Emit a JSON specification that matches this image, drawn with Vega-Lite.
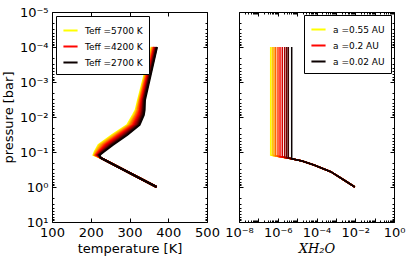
{
  "$schema": "https://vega.github.io/schema/vega-lite/v6.json",
  "padding": {"left": 1, "top": 5, "right": 5, "bottom": 5},
  "background": "white",
  "config": {
    "font": "DejaVu Sans",
    "view": {"stroke": "#000", "strokeWidth": 1},
    "axis": {"domain": false, "grid": false, "tickColor": "#000", "labelColor": "#000", "titleColor": "#000", "labelFont": "DejaVu Sans", "titleFont": "DejaVu Sans", "labelFontSize": 13, "titleFontSize": 13, "titleFontWeight": "normal", "labelFlush": false, "labelOverlap": false, "tickWidth": 1},
    "legend": {"strokeColor": "#000", "fillColor": "#fff", "padding": 6, "cornerRadius": 0, "symbolType": "stroke", "symbolStrokeWidth": 2, "symbolSize": 200, "labelFontSize": 9, "labelFont": "DejaVu Sans", "labelColor": "#000", "rowPadding": 2, "labelOffset": 6}
  },
  "datasets": {
    "tp": [
      {"teff":5700,"p":0.0001,"T":357},{"teff":5700,"p":0.00327,"T":322},{"teff":5700,"p":0.00631,"T":316},{"teff":5700,"p":0.00877,"T":309},{"teff":5700,"p":0.0169,"T":294},{"teff":5700,"p":0.0327,"T":255},{"teff":5700,"p":0.0631,"T":220},{"teff":5700,"p":0.1,"T":210},{"teff":5700,"p":0.122,"T":207},{"teff":5700,"p":0.148,"T":226},{"teff":5700,"p":1,"T":370},
      {"teff":5400,"p":0.0001,"T":358},{"teff":5400,"p":0.00327,"T":324},{"teff":5400,"p":0.00631,"T":318},{"teff":5400,"p":0.00877,"T":312},{"teff":5400,"p":0.0169,"T":297},{"teff":5400,"p":0.0327,"T":259},{"teff":5400,"p":0.0631,"T":223},{"teff":5400,"p":0.1,"T":212},{"teff":5400,"p":0.122,"T":209},{"teff":5400,"p":0.148,"T":226},{"teff":5400,"p":1,"T":370},
      {"teff":5100,"p":0.0001,"T":360},{"teff":5100,"p":0.00327,"T":326},{"teff":5100,"p":0.00631,"T":320},{"teff":5100,"p":0.00877,"T":315},{"teff":5100,"p":0.0169,"T":300},{"teff":5100,"p":0.0327,"T":263},{"teff":5100,"p":0.0631,"T":227},{"teff":5100,"p":0.1,"T":214},{"teff":5100,"p":0.122,"T":210},{"teff":5100,"p":0.148,"T":226},{"teff":5100,"p":1,"T":370},
      {"teff":4800,"p":0.0001,"T":361},{"teff":4800,"p":0.00327,"T":327},{"teff":4800,"p":0.00631,"T":322},{"teff":4800,"p":0.00877,"T":317},{"teff":4800,"p":0.0169,"T":303},{"teff":4800,"p":0.0327,"T":267},{"teff":4800,"p":0.0631,"T":231},{"teff":4800,"p":0.1,"T":217},{"teff":4800,"p":0.122,"T":212},{"teff":4800,"p":0.148,"T":226},{"teff":4800,"p":1,"T":370},
      {"teff":4500,"p":0.0001,"T":363},{"teff":4500,"p":0.00327,"T":329},{"teff":4500,"p":0.00631,"T":325},{"teff":4500,"p":0.00877,"T":320},{"teff":4500,"p":0.0169,"T":307},{"teff":4500,"p":0.0327,"T":270},{"teff":4500,"p":0.0631,"T":235},{"teff":4500,"p":0.1,"T":219},{"teff":4500,"p":0.122,"T":213},{"teff":4500,"p":0.148,"T":226},{"teff":4500,"p":1,"T":370},
      {"teff":4200,"p":0.0001,"T":364},{"teff":4200,"p":0.00327,"T":331},{"teff":4200,"p":0.00631,"T":327},{"teff":4200,"p":0.00877,"T":323},{"teff":4200,"p":0.0169,"T":310},{"teff":4200,"p":0.0327,"T":274},{"teff":4200,"p":0.0631,"T":238},{"teff":4200,"p":0.1,"T":221},{"teff":4200,"p":0.122,"T":215},{"teff":4200,"p":0.148,"T":226},{"teff":4200,"p":1,"T":370},
      {"teff":3900,"p":0.0001,"T":365},{"teff":3900,"p":0.00327,"T":333},{"teff":3900,"p":0.00631,"T":329},{"teff":3900,"p":0.00877,"T":326},{"teff":3900,"p":0.0169,"T":313},{"teff":3900,"p":0.0327,"T":278},{"teff":3900,"p":0.0631,"T":242},{"teff":3900,"p":0.1,"T":224},{"teff":3900,"p":0.122,"T":217},{"teff":3900,"p":0.148,"T":226},{"teff":3900,"p":1,"T":370},
      {"teff":3600,"p":0.0001,"T":367},{"teff":3600,"p":0.00327,"T":335},{"teff":3600,"p":0.00631,"T":332},{"teff":3600,"p":0.00877,"T":329},{"teff":3600,"p":0.0169,"T":316},{"teff":3600,"p":0.0327,"T":282},{"teff":3600,"p":0.0631,"T":246},{"teff":3600,"p":0.1,"T":226},{"teff":3600,"p":0.122,"T":218},{"teff":3600,"p":0.148,"T":226},{"teff":3600,"p":1,"T":370},
      {"teff":3300,"p":0.0001,"T":368},{"teff":3300,"p":0.00327,"T":336},{"teff":3300,"p":0.00631,"T":334},{"teff":3300,"p":0.00877,"T":331},{"teff":3300,"p":0.0169,"T":320},{"teff":3300,"p":0.0327,"T":286},{"teff":3300,"p":0.0631,"T":250},{"teff":3300,"p":0.1,"T":228},{"teff":3300,"p":0.122,"T":220},{"teff":3300,"p":0.148,"T":226},{"teff":3300,"p":1,"T":370},
      {"teff":3000,"p":0.0001,"T":370},{"teff":3000,"p":0.00327,"T":338},{"teff":3000,"p":0.00631,"T":336},{"teff":3000,"p":0.00877,"T":334},{"teff":3000,"p":0.0169,"T":323},{"teff":3000,"p":0.0327,"T":290},{"teff":3000,"p":0.0631,"T":253},{"teff":3000,"p":0.1,"T":231},{"teff":3000,"p":0.122,"T":221},{"teff":3000,"p":0.148,"T":226},{"teff":3000,"p":1,"T":370},
      {"teff":2700,"p":0.0001,"T":371},{"teff":2700,"p":0.00327,"T":340},{"teff":2700,"p":0.00631,"T":339},{"teff":2700,"p":0.00877,"T":337},{"teff":2700,"p":0.0169,"T":326},{"teff":2700,"p":0.0327,"T":294},{"teff":2700,"p":0.0631,"T":257},{"teff":2700,"p":0.1,"T":233},{"teff":2700,"p":0.122,"T":223},{"teff":2700,"p":0.148,"T":226},{"teff":2700,"p":1,"T":370}
    ],
    "xw": [
      {"teff":5700,"p":0.0001,"X":4.33e-7},{"teff":5700,"p":0.1219,"X":4.33e-7},{"teff":5700,"p":0.156,"X":5.3e-6},{"teff":5700,"p":0.18,"X":1.8e-5},{"teff":5700,"p":0.235,"X":7.4e-5},{"teff":5700,"p":0.366,"X":5.4e-4},{"teff":5700,"p":0.631,"X":2.6e-3},{"teff":5700,"p":1,"X":9.5e-3},
      {"teff":5400,"p":0.0001,"X":5.24e-7},{"teff":5400,"p":0.1245,"X":5.24e-7},{"teff":5400,"p":0.156,"X":5.3e-6},{"teff":5400,"p":0.18,"X":1.8e-5},{"teff":5400,"p":0.235,"X":7.4e-5},{"teff":5400,"p":0.366,"X":5.4e-4},{"teff":5400,"p":0.631,"X":2.6e-3},{"teff":5400,"p":1,"X":9.5e-3},
      {"teff":5100,"p":0.0001,"X":6.4e-7},{"teff":5100,"p":0.1273,"X":6.4e-7},{"teff":5100,"p":0.156,"X":5.3e-6},{"teff":5100,"p":0.18,"X":1.8e-5},{"teff":5100,"p":0.235,"X":7.4e-5},{"teff":5100,"p":0.366,"X":5.4e-4},{"teff":5100,"p":0.631,"X":2.6e-3},{"teff":5100,"p":1,"X":9.5e-3},
      {"teff":4800,"p":0.0001,"X":7.83e-7},{"teff":4800,"p":0.13,"X":7.83e-7},{"teff":4800,"p":0.156,"X":5.3e-6},{"teff":4800,"p":0.18,"X":1.8e-5},{"teff":4800,"p":0.235,"X":7.4e-5},{"teff":4800,"p":0.366,"X":5.4e-4},{"teff":4800,"p":0.631,"X":2.6e-3},{"teff":4800,"p":1,"X":9.5e-3},
      {"teff":4500,"p":0.0001,"X":1.03e-6},{"teff":4500,"p":0.133,"X":1.03e-6},{"teff":4500,"p":0.156,"X":5.3e-6},{"teff":4500,"p":0.18,"X":1.8e-5},{"teff":4500,"p":0.235,"X":7.4e-5},{"teff":4500,"p":0.366,"X":5.4e-4},{"teff":4500,"p":0.631,"X":2.6e-3},{"teff":4500,"p":1,"X":9.5e-3},
      {"teff":4200,"p":0.0001,"X":1.31e-6},{"teff":4200,"p":0.1358,"X":1.31e-6},{"teff":4200,"p":0.156,"X":5.3e-6},{"teff":4200,"p":0.18,"X":1.8e-5},{"teff":4200,"p":0.235,"X":7.4e-5},{"teff":4200,"p":0.366,"X":5.4e-4},{"teff":4200,"p":0.631,"X":2.6e-3},{"teff":4200,"p":1,"X":9.5e-3},
      {"teff":3900,"p":0.0001,"X":1.72e-6},{"teff":3900,"p":0.1387,"X":1.72e-6},{"teff":3900,"p":0.156,"X":5.3e-6},{"teff":3900,"p":0.18,"X":1.8e-5},{"teff":3900,"p":0.235,"X":7.4e-5},{"teff":3900,"p":0.366,"X":5.4e-4},{"teff":3900,"p":0.631,"X":2.6e-3},{"teff":3900,"p":1,"X":9.5e-3},
      {"teff":3600,"p":0.0001,"X":2.29e-6},{"teff":3600,"p":0.1419,"X":2.29e-6},{"teff":3600,"p":0.156,"X":5.3e-6},{"teff":3600,"p":0.18,"X":1.8e-5},{"teff":3600,"p":0.235,"X":7.4e-5},{"teff":3600,"p":0.366,"X":5.4e-4},{"teff":3600,"p":0.631,"X":2.6e-3},{"teff":3600,"p":1,"X":9.5e-3},
      {"teff":3300,"p":0.0001,"X":2.9e-6},{"teff":3300,"p":0.1449,"X":2.9e-6},{"teff":3300,"p":0.156,"X":5.3e-6},{"teff":3300,"p":0.18,"X":1.8e-5},{"teff":3300,"p":0.235,"X":7.4e-5},{"teff":3300,"p":0.366,"X":5.4e-4},{"teff":3300,"p":0.631,"X":2.6e-3},{"teff":3300,"p":1,"X":9.5e-3},
      {"teff":3000,"p":0.0001,"X":3.51e-6},{"teff":3000,"p":0.1483,"X":3.51e-6},{"teff":3000,"p":0.156,"X":5.3e-6},{"teff":3000,"p":0.18,"X":1.8e-5},{"teff":3000,"p":0.235,"X":7.4e-5},{"teff":3000,"p":0.366,"X":5.4e-4},{"teff":3000,"p":0.631,"X":2.6e-3},{"teff":3000,"p":1,"X":9.5e-3},
      {"teff":2700,"p":0.0001,"X":5.25e-6},{"teff":2700,"p":0.1514,"X":5.25e-6},{"teff":2700,"p":0.156,"X":5.3e-6},{"teff":2700,"p":0.18,"X":1.8e-5},{"teff":2700,"p":0.235,"X":7.4e-5},{"teff":2700,"p":0.366,"X":5.4e-4},{"teff":2700,"p":0.631,"X":2.6e-3},{"teff":2700,"p":1,"X":9.5e-3}
    ]
  },
  "spacing": 32,
  "bounds": "flush",
  "resolve": {"scale": {"color": "independent", "x": "independent", "y": "independent"}},
  "hconcat": [
    {
      "width": 155,
      "height": 210,
      "data": {"name": "tp"},
      "resolve": {"axis": {"x": "independent", "y": "independent"}},
      "layer": [
        {
          "mark": {"type": "line", "strokeWidth": 2},
          "encoding": {
            "x": {"field": "T", "type": "quantitative", "scale": {"domain": [100, 500], "nice": false, "zero": false},
                  "axis": {"orient": "bottom", "values": [100, 200, 300, 400, 500], "tickSize": -4, "labelPadding": 8, "title": "temperature [K]", "titlePadding": 3}},
            "y": {"field": "p", "type": "quantitative", "scale": {"type": "log", "domain": [0.00001, 10], "reverse": true, "nice": false},
                  "axis": {"orient": "left", "values": [0.00001, 0.0001, 0.001, 0.01, 0.1, 1, 10], "tickSize": -4, "labelPadding": 8, "title": "pressure [bar]", "titlePadding": 4,
                           "labelExpr": "'10' + replace(replace(replace(replace(replace(replace(replace(replace(replace(replace(replace(toString(round(log(datum.value)/LN10)),'-','⁻'),'0','⁰'),'1','¹'),'2','²'),'3','³'),'4','⁴'),'5','⁵'),'6','⁶'),'7','⁷'),'8','⁸'),'9','⁹')"}},
            "color": {"field": "teff", "type": "nominal",
                      "scale": {"domain": [5700, 5400, 5100, 4800, 4500, 4200, 3900, 3600, 3300, 3000, 2700],
                                "range": ["#ffff00", "#ffcd00", "#ff9b00", "#ff6900", "#ff3700", "#ff0500", "#d20000", "#a00000", "#6e0000", "#3c0000", "#0b0000"]},
                      "legend": {"values": [5700, 4200, 2700], "orient": "top-left", "offset": 4, "title": null, "labelExpr": "'Teff =' + datum.label + ' K'"}},
            "order": {"field": "p", "type": "quantitative"}
          }
        },
        {
          "mark": {"type": "line", "opacity": 0},
          "encoding": {
            "x": {"field": "T", "type": "quantitative", "axis": {"orient": "top", "values": [100, 200, 300, 400, 500], "tickSize": -4, "labels": false, "title": null}},
            "y": {"field": "p", "type": "quantitative", "axis": {"orient": "right", "values": [0.00001, 0.0001, 0.001, 0.01, 0.1, 1, 10], "tickSize": -4, "labels": false, "title": null}},
            "order": {"field": "p", "type": "quantitative"}
          }
        },
        {
          "mark": {"type": "line", "opacity": 0},
          "encoding": {
            "x": {"field": "T", "type": "quantitative", "axis": null},
            "y": {"field": "p", "type": "quantitative", "axis": {"orient": "left", "values": [2e-5,3e-5,4e-5,5e-5,6e-5,7e-5,8e-5,9e-5,2e-4,3e-4,4e-4,5e-4,6e-4,7e-4,8e-4,9e-4,2e-3,3e-3,4e-3,5e-3,6e-3,7e-3,8e-3,9e-3,2e-2,3e-2,4e-2,5e-2,6e-2,7e-2,8e-2,9e-2,0.2,0.3,0.4,0.5,0.6,0.7,0.8,0.9,2,3,4,5,6,7,8,9], "tickSize": -2, "labels": false, "title": null}},
            "order": {"field": "p", "type": "quantitative"}
          }
        },
        {
          "mark": {"type": "line", "opacity": 0},
          "encoding": {
            "x": {"field": "T", "type": "quantitative", "axis": null},
            "y": {"field": "p", "type": "quantitative", "axis": {"orient": "right", "values": [2e-5,3e-5,4e-5,5e-5,6e-5,7e-5,8e-5,9e-5,2e-4,3e-4,4e-4,5e-4,6e-4,7e-4,8e-4,9e-4,2e-3,3e-3,4e-3,5e-3,6e-3,7e-3,8e-3,9e-3,2e-2,3e-2,4e-2,5e-2,6e-2,7e-2,8e-2,9e-2,0.2,0.3,0.4,0.5,0.6,0.7,0.8,0.9,2,3,4,5,6,7,8,9], "tickSize": -2, "labels": false, "title": null}},
            "order": {"field": "p", "type": "quantitative"}
          }
        }
      ]
    },
    {
      "width": 155,
      "height": 210,
      "data": {"name": "xw"},
      "resolve": {"axis": {"x": "independent", "y": "independent"}},
      "layer": [
        {
          "mark": {"type": "line", "strokeWidth": 1.5},
          "encoding": {
            "x": {"field": "X", "type": "quantitative", "scale": {"type": "log", "domain": [1e-8, 1], "nice": false},
                  "axis": {"orient": "bottom", "values": [1e-8, 1e-7, 1e-6, 1e-5, 1e-4, 1e-3, 1e-2, 1e-1, 1], "tickSize": -4, "labelPadding": 8, "title": "XH₂O", "titleFont": "DejaVu Serif", "titleFontStyle": "italic", "titlePadding": 3,
                           "labelExpr": "round(log(datum.value)/LN10) % 2 == 0 ? '10' + replace(replace(replace(replace(replace(replace(replace(replace(replace(replace(replace(toString(round(log(datum.value)/LN10)),'-','⁻'),'0','⁰'),'1','¹'),'2','²'),'3','³'),'4','⁴'),'5','⁵'),'6','⁶'),'7','⁷'),'8','⁸'),'9','⁹') : ''"}},
            "y": {"field": "p", "type": "quantitative", "scale": {"type": "log", "domain": [0.00001, 10], "reverse": true, "nice": false},
                  "axis": {"orient": "left", "values": [0.00001, 0.0001, 0.001, 0.01, 0.1, 1, 10], "tickSize": -4, "labels": false, "title": null}},
            "color": {"field": "teff", "type": "nominal",
                      "scale": {"domain": [5700, 5400, 5100, 4800, 4500, 4200, 3900, 3600, 3300, 3000, 2700],
                                "range": ["#ffff00", "#ffcd00", "#ff9b00", "#ff6900", "#ff3700", "#ff0500", "#d20000", "#a00000", "#6e0000", "#3c0000", "#0b0000"]},
                      "legend": {"values": [5700, 4200, 2700], "orient": "top-right", "offset": 3, "title": null, "labelExpr": "datum.value == 5700 ? 'a =0.55 AU' : datum.value == 4200 ? 'a =0.2 AU' : 'a =0.02 AU'"}},
            "order": {"field": "p", "type": "quantitative"}
          }
        },
        {
          "mark": {"type": "line", "opacity": 0},
          "encoding": {
            "x": {"field": "X", "type": "quantitative", "axis": {"orient": "top", "values": [1e-8, 1e-7, 1e-6, 1e-5, 1e-4, 1e-3, 1e-2, 1e-1, 1], "tickSize": -4, "labels": false, "title": null}},
            "y": {"field": "p", "type": "quantitative", "axis": {"orient": "right", "values": [0.00001, 0.0001, 0.001, 0.01, 0.1, 1, 10], "tickSize": -4, "labels": false, "title": null}},
            "order": {"field": "p", "type": "quantitative"}
          }
        },
        {
          "mark": {"type": "line", "opacity": 0},
          "encoding": {
            "x": {"field": "X", "type": "quantitative", "axis": {"orient": "bottom", "values": [2e-8,3e-8,4e-8,5e-8,6e-8,7e-8,8e-8,9e-8,2e-7,3e-7,4e-7,5e-7,6e-7,7e-7,8e-7,9e-7,2e-6,3e-6,4e-6,5e-6,6e-6,7e-6,8e-6,9e-6,2e-5,3e-5,4e-5,5e-5,6e-5,7e-5,8e-5,9e-5,2e-4,3e-4,4e-4,5e-4,6e-4,7e-4,8e-4,9e-4,2e-3,3e-3,4e-3,5e-3,6e-3,7e-3,8e-3,9e-3,2e-2,3e-2,4e-2,5e-2,6e-2,7e-2,8e-2,9e-2,0.2,0.3,0.4,0.5,0.6,0.7,0.8,0.9], "tickSize": -2, "labels": false, "title": null}},
            "y": {"field": "p", "type": "quantitative", "axis": {"orient": "left", "values": [2e-5,3e-5,4e-5,5e-5,6e-5,7e-5,8e-5,9e-5,2e-4,3e-4,4e-4,5e-4,6e-4,7e-4,8e-4,9e-4,2e-3,3e-3,4e-3,5e-3,6e-3,7e-3,8e-3,9e-3,2e-2,3e-2,4e-2,5e-2,6e-2,7e-2,8e-2,9e-2,0.2,0.3,0.4,0.5,0.6,0.7,0.8,0.9,2,3,4,5,6,7,8,9], "tickSize": -2, "labels": false, "title": null}},
            "order": {"field": "p", "type": "quantitative"}
          }
        },
        {
          "mark": {"type": "line", "opacity": 0},
          "encoding": {
            "x": {"field": "X", "type": "quantitative", "axis": {"orient": "top", "values": [2e-8,3e-8,4e-8,5e-8,6e-8,7e-8,8e-8,9e-8,2e-7,3e-7,4e-7,5e-7,6e-7,7e-7,8e-7,9e-7,2e-6,3e-6,4e-6,5e-6,6e-6,7e-6,8e-6,9e-6,2e-5,3e-5,4e-5,5e-5,6e-5,7e-5,8e-5,9e-5,2e-4,3e-4,4e-4,5e-4,6e-4,7e-4,8e-4,9e-4,2e-3,3e-3,4e-3,5e-3,6e-3,7e-3,8e-3,9e-3,2e-2,3e-2,4e-2,5e-2,6e-2,7e-2,8e-2,9e-2,0.2,0.3,0.4,0.5,0.6,0.7,0.8,0.9], "tickSize": -2, "labels": false, "title": null}},
            "y": {"field": "p", "type": "quantitative", "axis": {"orient": "right", "values": [2e-5,3e-5,4e-5,5e-5,6e-5,7e-5,8e-5,9e-5,2e-4,3e-4,4e-4,5e-4,6e-4,7e-4,8e-4,9e-4,2e-3,3e-3,4e-3,5e-3,6e-3,7e-3,8e-3,9e-3,2e-2,3e-2,4e-2,5e-2,6e-2,7e-2,8e-2,9e-2,0.2,0.3,0.4,0.5,0.6,0.7,0.8,0.9,2,3,4,5,6,7,8,9], "tickSize": -2, "labels": false, "title": null}},
            "order": {"field": "p", "type": "quantitative"}
          }
        }
      ]
    }
  ]
}
